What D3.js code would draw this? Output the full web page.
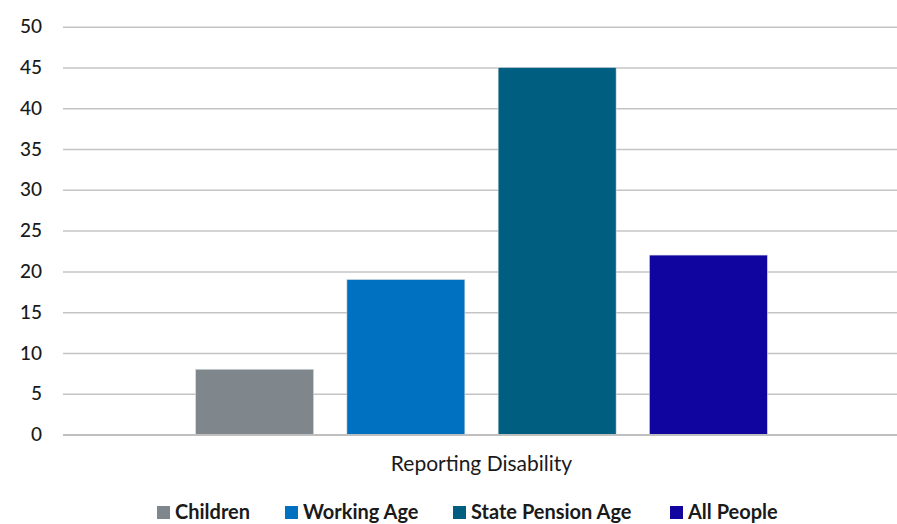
<!DOCTYPE html>
<html><head><meta charset="utf-8">
<script src="https://cdn.jsdelivr.net/npm/d3@7"></script>
<style>body{margin:0;background:#fff;} svg{display:block;font-family:Lato, "Open Sans", sans-serif;}</style>
</head><body>
<svg id="c" width="897" height="524"></svg>
<script>
const categories = ["Reporting Disability"];
const series = ["Children", "Working Age", "State Pension Age", "All People"];
const values = [8, 19, 45, 22];
const colors = ["#7F868C", "#0070C0", "#005E80", "#10069F"];
const yTicks = [0, 5, 10, 15, 20, 25, 30, 35, 40, 45, 50];

const svg = d3.select("#c");
const mLeft = 63, mRight = 900, mTop = 26.7, mBottom = 434.5;

const y = d3.scaleLinear().domain([0, 50]).range([mBottom, mTop]);
const x0 = d3.scaleBand().domain(categories).range([mLeft, mRight]).paddingOuter(0.1917).paddingInner(0);
const x1 = d3.scaleBand().domain(series).range([0, x0.bandwidth()]).paddingInner(0.22).paddingOuter(0.11);

// gridlines
const yAxis = d3.axisLeft(y).tickValues(yTicks).tickSize(-(mRight - mLeft)).tickPadding(21);
const g = svg.append("g").attr("transform", `translate(${mLeft},0)`).call(yAxis);
g.select(".domain").remove();
g.selectAll(".tick line").attr("stroke", "#C4C4C4").attr("stroke-width", 1.5);
g.selectAll(".tick text").attr("font-size", 19).attr("fill", "#1a1a1a")
  .attr("font-family", "Lato, sans-serif").attr("font-weight", 500);

// bars
svg.append("g").selectAll("rect").data(series).join("rect")
  .attr("x", d => x0(categories[0]) + x1(d))
  .attr("width", x1.bandwidth())
  .attr("y", (d, i) => y(values[i]))
  .attr("height", (d, i) => y(0) - y(values[i]))
  .attr("fill", (d, i) => colors[i])
  .attr("stroke", "#d8dde2").attr("stroke-width", 0.6);

// baseline
svg.append("line").attr("x1", mLeft).attr("x2", mRight).attr("y1", y(0)+0.5).attr("y2", y(0)+0.5)
  .attr("stroke", "#BFBFBF").attr("stroke-width", 2);

// category label
svg.append("text").attr("x", x0(categories[0]) + x0.bandwidth() / 2).attr("y", 471)
  .attr("text-anchor", "middle").attr("font-size", 21).attr("fill", "#1a1a1a").text(categories[0]);

// legend
const legX = [157, 285, 453, 670];
const leg = svg.append("g").selectAll("g").data(series).join("g")
  .attr("transform", (d, i) => `translate(${legX[i]},0)`);
leg.append("rect").attr("x", 0).attr("y", 506).attr("width", 13).attr("height", 13).attr("fill", (d, i) => colors[i]);
leg.append("text").attr("x", 18).attr("y", 519).attr("font-size", 20).attr("font-weight", "bold")
  .attr("fill", "#1a1a1a").text(d => d);
</script>
</body></html>
